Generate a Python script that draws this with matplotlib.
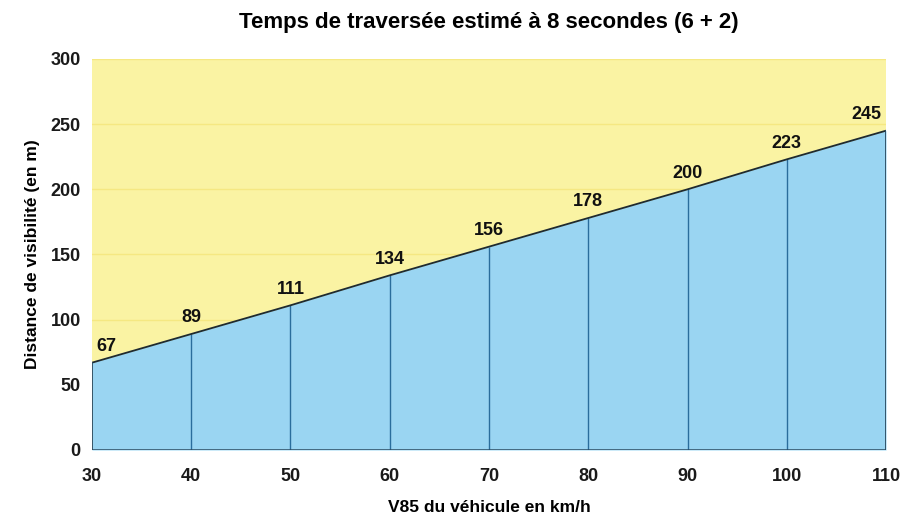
import numpy as np
import matplotlib
matplotlib.use('Agg')
import matplotlib.pyplot as plt

plt.rcParams['font.family'] = ['Liberation Sans', 'DejaVu Sans']

vitesse = [30, 40, 50, 60, 70, 80, 90, 100, 110]
distance = [67, 89, 111, 134, 156, 178, 200, 223, 245]
yticks = [0, 50, 100, 150, 200, 250, 300]

fig = plt.figure(figsize=(9.08, 5.17), dpi=100)
ax = fig.add_axes([0.1013, 0.1296, 0.8745, 0.7563])

ax.set_facecolor('#faf3a3')
for s in ax.spines.values():
    s.set_visible(False)

# grille horizontale (visible seulement dans la zone jaune)
for y in yticks[1:]:
    ax.axhline(y, color='#f5e882', linewidth=1.0, zorder=1)

ax.fill_between(vitesse, 0, distance, color='#9ad5f2', zorder=2, linewidth=0)
ax.plot(vitesse, distance, color='#1e2a30', linewidth=1.3, zorder=4)
ax.vlines(vitesse[1:-1], 0, distance[1:-1], color='#2a6d9c', linewidth=1.0, zorder=3)
ax.plot([vitesse[0], vitesse[0]], [0, distance[0]], color='#2a4a60', linewidth=1.3, zorder=4)
ax.plot([vitesse[-1], vitesse[-1]], [0, distance[-1]], color='#2a4a60', linewidth=1.3, zorder=4)
ax.plot([vitesse[0], vitesse[-1]], [0, 0], color='#2a4a60', linewidth=1.8, zorder=4)

for i, (x, y) in enumerate(zip(vitesse, distance)):
    dx = 0
    if i == 0:
        dx = 1.4
    elif i == len(vitesse) - 1:
        dx = -2.0
    ax.text(x + dx, y + 6, str(y), ha='center', va='bottom', fontsize=13,
            fontweight='bold', color='#111111', zorder=5)

ax.set_xlim(30, 110)
ax.set_ylim(0, 300)
ax.set_xticks(vitesse)
ax.set_yticks(yticks)
ax.tick_params(length=0, labelsize=13, pad=8)
ax.tick_params(axis='x', pad=13)
for lab in ax.get_xticklabels() + ax.get_yticklabels():
    lab.set_fontweight('bold')
    lab.set_color('#1a1a1a')

ax.set_xlabel('V85 du véhicule en km/h', fontsize=12.5, fontweight='bold', labelpad=11)
ax.set_ylabel('Distance de visibilité (en m)', fontsize=12.5, fontweight='bold', labelpad=8)
ax.set_title('Temps de traversée estimé à 8 secondes (6 + 2)', fontsize=16,
             fontweight='bold', pad=22)

plt.savefig('out.png', dpi=100)
